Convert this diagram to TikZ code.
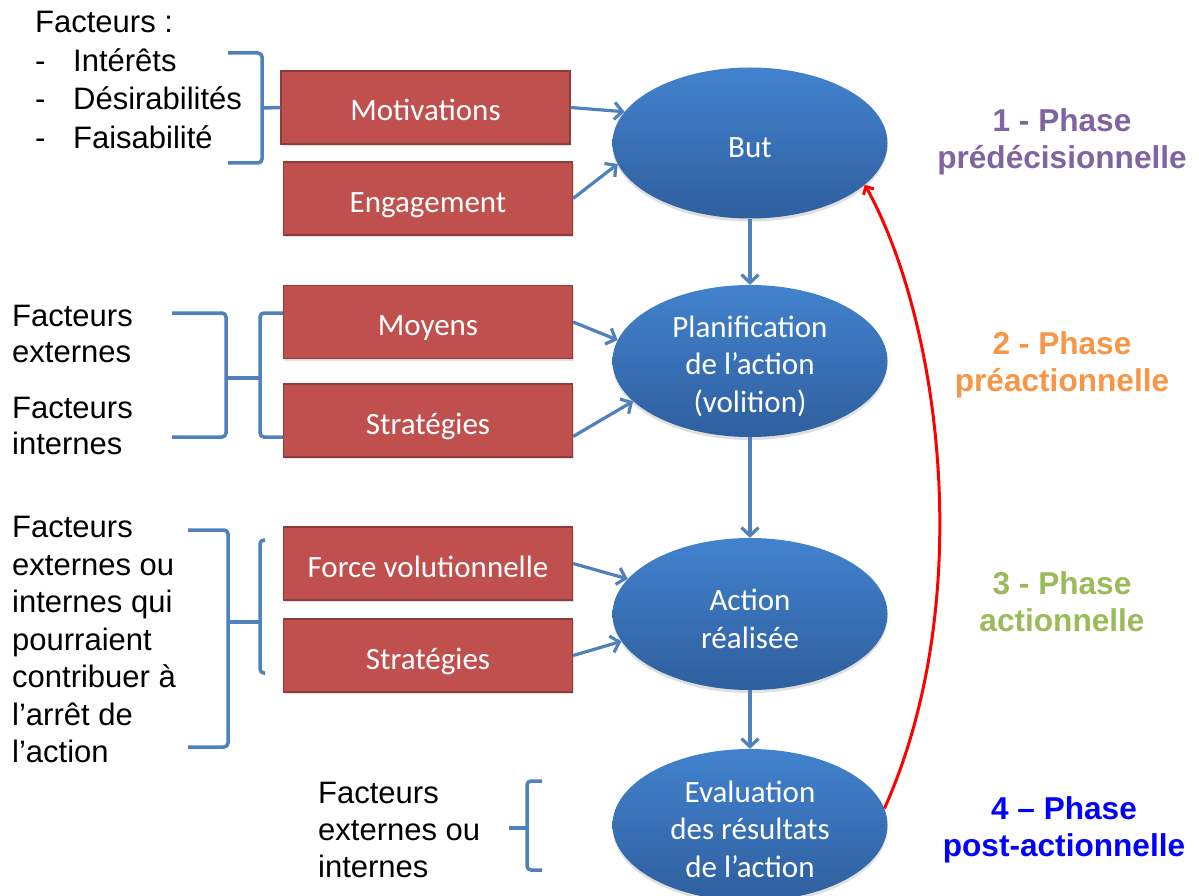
\documentclass[tikz,border=0pt]{standalone}
\usepackage{fontspec}
\setmainfont{Liberation Sans}
\newfontfamily\calibri{Carlito}
\usetikzlibrary{arrows.meta,shadows,shapes.geometric}
\definecolor{boxred}{HTML}{C0504D}
\definecolor{boxedge}{HTML}{8E3B39}
\definecolor{ellTop}{HTML}{4282CE}
\definecolor{ellBot}{HTML}{2F5F9E}
\definecolor{linkblue}{HTML}{4F81BD}
\definecolor{phA}{HTML}{8064A2}
\definecolor{phB}{HTML}{F79646}
\definecolor{phC}{HTML}{9BBB59}
\definecolor{phD}{HTML}{0000FF}
\begin{document}
\begin{tikzpicture}[x=1pt,y=-1pt,
  redbox/.style={draw=boxedge,line width=1.2pt,fill=boxred,minimum width=289pt,minimum height=73pt,inner sep=0pt,text=white,text height=27pt,text depth=0pt,font=\calibri\fontsize{31}{37.5}\selectfont,drop shadow={opacity=0.25,shadow xshift=1pt,shadow yshift=-2pt}},
  ell/.style={ellipse,minimum width=275pt,minimum height=152pt,inner sep=0pt,top color=ellTop,bottom color=ellBot,drop shadow={opacity=0.25,shadow xshift=0pt,shadow yshift=-3pt}},
  elltext/.style={text=white,align=center,inner sep=0pt,yshift=-5pt,font=\calibri\fontsize{31}{37.5}\selectfont},
  link/.style={draw=linkblue,line width=3.2pt,-{Straight Barb[length=8pt,width=17pt]}},
  redarrow/.style={draw=red,line width=3pt,-{Straight Barb[length=6pt,width=12pt]}},
  brk/.style={draw=linkblue,line width=3.5pt,rounded corners=4pt},
  lefttxt/.style={inner sep=0pt,align=left,anchor=north west},
  phase/.style={inner sep=0pt,align=center,anchor=north,font=\bfseries\fontsize{31.6}{37}\selectfont}
]
\useasboundingbox (0,0) rectangle (1199,896);
\fill[white] (0,0) rectangle (1199,896);
\clip (0,0) rectangle (1199,896);

% red boxes
\node[redbox,minimum width=289pt] (mot) at (425.5,107.5) {Motivations};
\node[redbox] (eng) at (428,198.5) {Engagement};
\node[redbox] (moy) at (428,322) {Moyens};
\node[redbox] (str1) at (428,420.5) {Stratégies};
\node[redbox] (force) at (428,563.5) {Force volutionnelle};
\node[redbox] (str2) at (428,655.5) {Stratégies};

% ellipses
\node[ell,minimum height=151pt,label={[elltext]center:But}] (but) at (750,143) {};
\node[ell,label={[elltext]center:{Planification\\de l’action\\(volition)}}] (plan) at (750,361) {};
\node[ell,label={[elltext]center:{Action\\réalisée}}] (act) at (750,614) {};
\node[ell,label={[elltext,yshift=1pt]center:{Evaluation\\des résultats\\de l’action}}] (eval) at (750,825) {};

% arrows
\draw[link] (mot.east) -- (but.166);
\draw[link] (eng.east) -- (but.189);
\draw[link] (moy.east) -- (plan.171);
\draw[link] ([yshift=-16pt]str1.east) -- (plan.199);
\draw[link] (force.east) -- (act.164);
\draw[link] (str2.east) -- (act.192);
\draw[link] (but.south) -- (plan.north);
\draw[link] (plan.south) -- (act.north);
\draw[link] (act.south) -- (eval.north);
\draw[redarrow] (eval.7) .. controls (978,600) and (940,320) .. (but.-20);

% left texts
\node[lefttxt,font=\fontsize{31}{38.7}\selectfont] (f1) at (35,11)
  {Facteurs :\\\makebox[38pt][l]{-}Intérêts\\\makebox[38pt][l]{-}Désirabilités\\\makebox[38pt][l]{-}Faisabilité};
\node[lefttxt,font=\fontsize{31}{36}\selectfont] (f2a) at (12,305) {Facteurs\\externes};
\node[lefttxt,font=\fontsize{31}{36}\selectfont] (f2b) at (12,397) {Facteurs\\internes};
\node[lefttxt,font=\fontsize{31}{37.5}\selectfont] (f3) at (12,516)
  {Facteurs\\externes ou\\internes qui\\pourraient\\contribuer à\\l’arrêt de\\l’action};
\node[lefttxt,font=\fontsize{31}{37}\selectfont] (f4) at (318,782) {Facteurs\\externes ou\\internes};

% brackets
\draw[brk] (228,53) -- (262,53) -- (262,163) -- (228,163);
\draw[brk] (262,108) -- (mot.west);
\draw[brk] (172,313) -- (226,313) -- (226,437) -- (172,437);
\draw[brk] (226,378) -- (260,378);
\draw[brk] (283,313) -- (260,313) -- (260,437) -- (283,437);
\draw[brk] (188,530) -- (228,530) -- (228,747) -- (188,747);
\draw[brk] (228,622) -- (260,622);
\draw[brk] (265,540) -- (260,540) -- (260,673) -- (265,673);
\draw[brk] (542,781) -- (527,781) -- (527,870) -- (542,870);
\draw[brk] (527,828) -- (509,828);

% phase labels
\node[phase,text=phA] (p1) at (1062,108) {1 - Phase\\prédécisionnelle};
\node[phase,text=phB] (p2) at (1062,331) {2 - Phase\\préactionnelle};
\node[phase,text=phC] (p3) at (1062,571) {3 - Phase\\actionnelle};
\node[phase,text=phD] (p4) at (1064,796) {4 – Phase\\post-actionnelle};
\end{tikzpicture}
\end{document}
